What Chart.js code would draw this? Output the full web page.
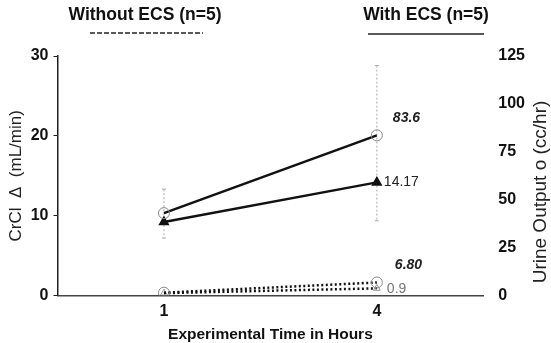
<!DOCTYPE html>
<html>
<head>
<meta charset="utf-8">
<script src="https://cdn.jsdelivr.net/npm/chart.js@4.4.1/dist/chart.umd.min.js"></script>
<style>
  html, body { margin: 0; padding: 0; background: #fff; }
  #wrap { width: 551px; height: 343px; position: relative; }
</style>
</head>
<body>
<div id="wrap"><canvas id="chart" width="551" height="343"></canvas></div>
<script>
// categories (hours)
var hours = ["1", "4"];
// with ECS
var urineWith = [43, 83.6];
var urineWithLow = [30, 39];
var urineWithHigh = [55.5, 120];
var crclWith = [9.2, 14.17];
// without ECS
var urineWithout = [1.5, 6.8];
var crclWithout = [0.3, 0.9];
// axis ticks
var leftTicks = [0, 10, 20, 30];
var rightTicks = [0, 25, 50, 75, 100, 125];

var FONT = "'Liberation Sans', Arial, sans-serif";

var errorBars = {
  id: "errorBars",
  beforeDatasetsDraw: function (chart) {
    var ctx = chart.ctx;
    var xs = chart.scales.x, yr = chart.scales.yR;
    ctx.save();
    ctx.strokeStyle = "#aaa";
    ctx.lineWidth = 1;
    hours.forEach(function (h, i) {
      var x = xs.getPixelForValue(i);
      var top = yr.getPixelForValue(urineWithHigh[i]);
      var bot = yr.getPixelForValue(urineWithLow[i]);
      ctx.setLineDash([2, 2]);
      ctx.beginPath();
      ctx.moveTo(x, top); ctx.lineTo(x, bot);
      ctx.stroke();
      ctx.setLineDash([]);
      ctx.beginPath();
      ctx.moveTo(x - 2, top); ctx.lineTo(x + 2, top);
      ctx.moveTo(x - 2, bot); ctx.lineTo(x + 2, bot);
      ctx.stroke();
    });
    ctx.restore();
  }
};

var extras = {
  id: "extras",
  afterDraw: function (chart) {
    var ctx = chart.ctx;
    var xs = chart.scales.x, yl = chart.scales.y, yr = chart.scales.yR;
    var x4 = xs.getPixelForValue(1);
    ctx.save();
    ctx.textBaseline = "middle";
    ctx.textAlign = "left";
    // value labels
    ctx.fillStyle = "#222";
    ctx.font = "italic bold 14px " + FONT;
    ctx.fillText(String(urineWith[1]), x4 + 16, yr.getPixelForValue(urineWith[1]) - 17);
    ctx.fillText(urineWithout[1].toFixed(2), x4 + 18, yr.getPixelForValue(urineWithout[1]) - 17);
    ctx.font = "14px " + FONT;
    ctx.fillText(String(crclWith[1]), x4 + 7, yl.getPixelForValue(crclWith[1]));
    ctx.fillStyle = "#777";
    ctx.fillText(String(crclWithout[1]), x4 + 10, yl.getPixelForValue(crclWithout[1]) + 1);
    // right axis title, read bottom to top
    ctx.fillStyle = "#222";
    ctx.font = "19px " + FONT;
    ctx.textAlign = "center";
    ctx.translate(541, 192);
    ctx.rotate(-Math.PI / 2);
    ctx.fillText("Urine Output o (cc/hr)", 0, 0);
    ctx.restore();

    ctx.save();
    ctx.textBaseline = "middle";
    // group headers
    ctx.fillStyle = "#111";
    ctx.font = "bold 17.5px " + FONT;
    ctx.textAlign = "center";
    ctx.fillText("Without ECS (n=5)", 145, 15);
    ctx.fillText("With ECS (n=5)", 426, 15);
    ctx.strokeStyle = "#222";
    ctx.lineWidth = 1.5;
    ctx.setLineDash([5, 2]);
    ctx.beginPath(); ctx.moveTo(90, 33); ctx.lineTo(203, 33); ctx.stroke();
    ctx.setLineDash([]);
    ctx.beginPath(); ctx.moveTo(368, 34); ctx.lineTo(484, 34); ctx.stroke();
    ctx.restore();
  }
};

new Chart(document.getElementById("chart"), {
  type: "line",
  data: {
    labels: hours,
    datasets: [
      {
        label: "Urine with ECS", data: urineWith, yAxisID: "yR",
        borderColor: "#111", borderWidth: 2.5,
        pointStyle: "circle", pointRadius: 5.5,
        pointBackgroundColor: "rgba(255,255,255,0)", pointBorderColor: "#888", pointBorderWidth: 1
      },
      {
        label: "CrCl with ECS", data: crclWith, yAxisID: "y",
        borderColor: "#111", borderWidth: 2.5,
        pointStyle: "triangle", pointRadius: 4,
        pointBackgroundColor: "#111", pointBorderColor: "#111"
      },
      {
        label: "Urine without ECS", data: urineWithout, yAxisID: "yR",
        borderColor: "#111", borderWidth: 2.5, borderDash: [2, 2.5],
        pointStyle: "circle", pointRadius: 5.5,
        pointBackgroundColor: "rgba(255,255,255,0)", pointBorderColor: "#888", pointBorderWidth: 1
      },
      {
        label: "CrCl without ECS", data: crclWithout, yAxisID: "y",
        borderColor: "#111", borderWidth: 2.5, borderDash: [2, 2.5],
        pointStyle: "triangle", pointRadius: 4,
        pointBackgroundColor: "rgba(255,255,255,0)", pointBorderColor: "#999", pointBorderWidth: 1
      }
    ]
  },
  options: {
    responsive: false,
    animation: false,
    layout: { padding: { top: 56, left: 7, right: 11, bottom: 0 } },
    plugins: { legend: { display: false }, tooltip: { enabled: false } },
    scales: {
      x: {
        offset: true,
        grid: { display: false, drawTicks: false },
        border: { color: "#444", width: 1.5 },
        ticks: { font: { family: FONT, size: 16, weight: "bold" }, color: "#111", padding: 6 },
        title: { display: true, text: "Experimental Time in Hours", font: { family: FONT, size: 15.5, weight: "bold", lineHeight: 1.05 }, color: "#111", padding: { top: 0, bottom: 0 } }
      },
      y: {
        position: "left", min: 0, max: 30,
        afterBuildTicks: function (s) { s.ticks = leftTicks.map(function (v) { return { value: v }; }); },
        grid: { drawOnChartArea: false, tickLength: 4, color: "#222" },
        border: { color: "#222", width: 1.5 },
        ticks: { font: { family: FONT, size: 16, weight: "bold" }, color: "#111", padding: 5 },
        title: { display: true, text: "CrCl  \u0394  (mL/min)", font: { family: FONT, size: 17, lineHeight: 1.1 }, color: "#222", padding: { top: 0, bottom: 0 } }
      },
      yR: {
        position: "right", min: 0, max: 125,
        afterBuildTicks: function (s) { s.ticks = rightTicks.map(function (v) { return { value: v }; }); },
        grid: { display: false, drawTicks: false },
        border: { display: false },
        ticks: { font: { family: FONT, size: 16, weight: "bold" }, color: "#111", padding: 15 }
      }
    }
  },
  plugins: [errorBars, extras]
});
</script>
</body>
</html>
